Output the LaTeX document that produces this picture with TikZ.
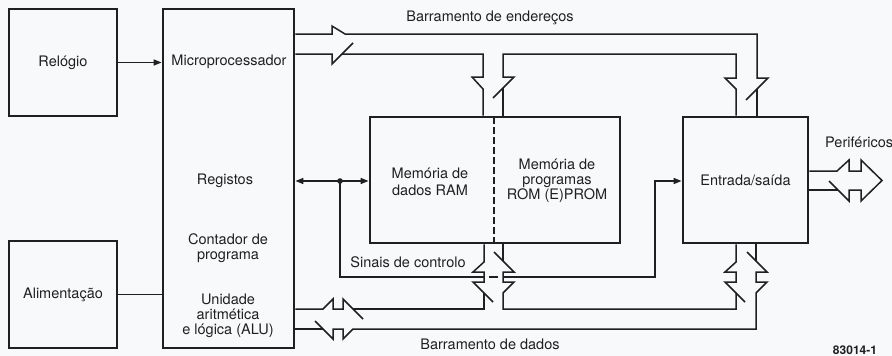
\documentclass[tikz,border=0pt]{standalone}
\usepackage{fontspec}
\setmainfont{TeX Gyre Heros}
\usetikzlibrary{arrows.meta}
\definecolor{ink}{HTML}{202020}
\definecolor{paper}{HTML}{F8F9FA}
\begin{document}
\begin{tikzpicture}[x=1pt,y=-1pt,
  box/.style={draw=ink, line width=2.8pt, inner sep=0pt, align=center,
    font=\fontsize{14.5}{15}\selectfont, text=ink},
  bus/.style={draw=ink, line width=1.5pt, line join=miter, line cap=butt},
  lbl/.style={font=\fontsize{14.5}{15}\selectfont, text=ink, align=center, inner sep=0pt},
  tip/.style={-{Triangle[length=8pt,width=6pt]}},
  tips/.style={{Triangle[length=8pt,width=6pt]}-{Triangle[length=8pt,width=6pt]}}]
\fill[paper] (0,0) rectangle (892,356);
\useasboundingbox (0,0) rectangle (892,356);

% blocks
\node[box, minimum width=108pt, minimum height=107pt] (rel) at (63,62.5) {Relógio};
\node[box, minimum width=108pt, minimum height=107pt] (alim) at (63,294.5) {Alimentação};
\node[box, minimum width=131pt, minimum height=339pt] (mp) at (228.5,178.5) {};
\node[box, minimum width=250pt, minimum height=126pt] (mem) at (495,180) {};
\node[box, minimum width=125pt, minimum height=126pt] (io) at (745.5,180) {Entrada/saída};

\node[lbl] (t1) at (229,62) {Microprocessador};
\node[lbl] (t2) at (225,181) {Registos};
\node[lbl] (t3) at (228,248) {Contador de\\programa};
\node[lbl] (t4) at (228,316) {Unidade\\aritmética\\e lógica (ALU)};
\node[lbl, font=\fontsize{14.5}{17}\selectfont] (t5) at (430,182) {Memória de\\dados RAM};
\node[lbl] (t6) at (557,181) {Memória de\\programas\\ROM (E)PROM};
\draw[ink, line width=2.8pt, dash pattern=on 7pt off 3pt] (494,117) -- (494,243);

\node[lbl] (ab) at (490,18) {Barramento de endereços};
\node[lbl] (db) at (490,344) {Barramento de dados};
\node[lbl] (cs) at (408,262) {Sinais de controlo};
\node[lbl, anchor=west] (per) at (825,142) {Periféricos};
\node[font=\fontsize{12}{12}\bfseries, text=ink, inner sep=0pt] (fig) at (855,350) {83014-1};

% simple connectors
\draw[bus, tip] (rel.east) -- (mp.west |- rel.east);
\draw[bus] (alim.east) -- (mp.west |- alim.east);
\coordinate (dot) at (340,181);
\draw[bus, tips] (mp.east |- dot) -- (mem.west |- dot);
\fill[ink] (dot) circle (2.8pt);
\draw[bus] (dot) -- (340,277) -- (484,277);
\draw[bus] (489,277) -- (498,277);
\draw[bus, tip] (503,277) -- (655,277) -- (655,181) -- (io.west |- 655,181);

% address bus
\draw[bus] (mp.east |- 0,34) -- (332,34) -- (332,26) -- (345,34) -- (757,34) -- (757,78) -- (768,78) -- (746,100);
\draw[bus] (757,89) -- (io.north -| 757,0);
\draw[bus] (mp.east |- 0,54) -- (332,54) -- (332,64) -- (353,43);
\draw[bus] (342,54) -- (483,54) -- (483,77) -- (472,77) -- (483,89) -- (mem.north -| 483,0);
\draw[bus] (mem.north -| 503,0) -- (503,88);
\draw[bus] (493,98) -- (514,77) -- (503,77) -- (503,54) -- (736,54) -- (736,78) -- (725,78) -- (736,89) -- (io.north -| 736,0);

% data bus
\draw[bus] (mp.east |- 0,309) -- (323,309) -- (333,299) -- (333,309) -- (343,309) -- (343,299) -- (363,319);
\draw[bus] (mem.south -| 484,0) -- (484,262) -- (473,272) -- (484,272) -- (484,282) -- (473,282) -- (493,302);
\draw[bus] (484,293) -- (484,309) -- (353,309);
\draw[bus] (mem.south -| 503,0) -- (503,261);
\draw[bus] (494,252) -- (514,272) -- (503,272) -- (503,282) -- (514,282) -- (503,293) -- (503,309) -- (736,309) -- (736,293) -- (725,282) -- (736,282) -- (736,272) -- (725,272) -- (736,262) -- (io.south -| 736,0);
\draw[bus] (736,293) -- (745,302);
\draw[bus] (io.south -| 756,0) -- (756,261);
\draw[bus] (747,252) -- (767,272) -- (756,272) -- (756,282) -- (767,282) -- (756,293) -- (756,329) -- (353,329) -- (343,339) -- (343,329) -- (333,329) -- (333,339) -- (315,321);
\draw[bus] (323,329) -- (mp.east |- 0,329);

% peripherals
\draw[bus] (io.east |- 0,171) -- (837,171) -- (849,160) -- (849,171) -- (861,171) -- (861,160) -- (882,180.5) -- (861,201) -- (861,190) -- (849,190) -- (849,201) -- (829,181);
\draw[bus] (838,190) -- (io.east |- 0,190);
\end{tikzpicture}
\end{document}
